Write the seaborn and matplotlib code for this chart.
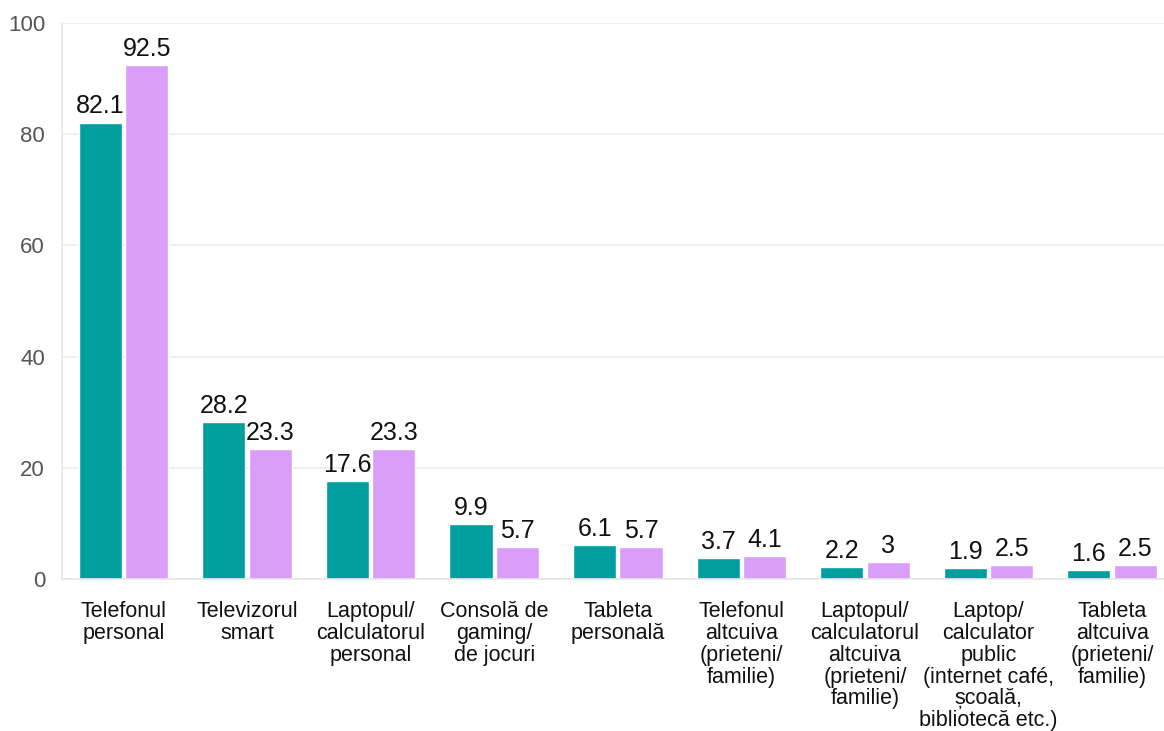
import pandas as pd
import matplotlib
matplotlib.use("Agg")
import matplotlib.pyplot as plt
import seaborn as sns

# categories and the two series
categories = [
    "Telefonul\npersonal",
    "Televizorul\nsmart",
    "Laptopul/\ncalculatorul\npersonal",
    "Consolă de\ngaming/\nde jocuri",
    "Tableta\npersonală",
    "Telefonul\naltcuiva\n(prieteni/\nfamilie)",
    "Laptopul/\ncalculatorul\naltcuiva\n(prieteni/\nfamilie)",
    "Laptop/\ncalculator\npublic\n(internet café,\nșcoală,\nbibliotecă etc.)",
    "Tableta\naltcuiva\n(prieteni/\nfamilie)",
]
series_names = ["Seria 1", "Seria 2"]
values_teal = [82.1, 28.2, 17.6, 9.9, 6.1, 3.7, 2.2, 1.9, 1.6]
values_pink = [92.5, 23.3, 23.3, 5.7, 5.7, 4.1, 3, 2.5, 2.5]
y_ticks = [0, 20, 40, 60, 80, 100]

df = pd.DataFrame({
    "device": categories * 2,
    "serie": [series_names[0]] * len(categories) + [series_names[1]] * len(categories),
    "value": values_teal + values_pink,
})

sns.set_theme(style="white")
plt.rcParams["font.family"] = ["Liberation Sans", "DejaVu Sans"]

fig = plt.figure(figsize=(11.64, 7.31), dpi=100)
ax = fig.add_axes([0.053, 0.208, 0.947, 0.7605])

sns.barplot(data=df, x="device", y="value", hue="serie",
            palette=["#009f9d", "#d99ef7"], width=0.75, gap=0.07,
            legend=False, ax=ax, saturation=1)

for cont in ax.containers:
    ax.bar_label(cont, labels=[f"{v:g}" for v in cont.datavalues],
                 padding=3, fontsize=18, color="#111111")

ax.set_ylim(0, 100)
ax.set_xlim(-0.5, 8.42)
ax.set_yticks(y_ticks)
ax.yaxis.grid(True, color="#ececec", linewidth=1.2)
ax.set_axisbelow(True)
ax.set_xlabel("")
ax.set_ylabel("")

for s in ["top", "right"]:
    ax.spines[s].set_visible(False)
for s in ["left", "bottom"]:
    ax.spines[s].set_color("#e6e6e6")
    ax.spines[s].set_linewidth(1.2)

ax.tick_params(axis="y", length=8, width=1.2, color="#e6e6e6",
               labelsize=16, labelcolor="#555555", pad=4)
ax.tick_params(axis="x", length=8, width=1.2, color="#e6e6e6",
               labelsize=15.5, labelcolor="#111111", pad=8)
for lab in ax.get_xticklabels():
    lab.set_linespacing(1.05)

plt.savefig("out.png", dpi=100)
